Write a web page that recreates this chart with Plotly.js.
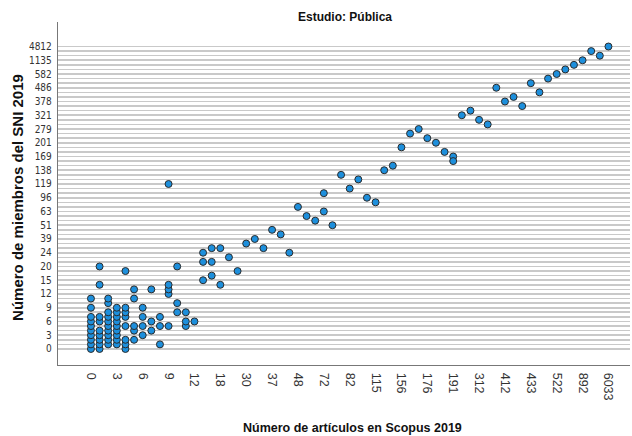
<!DOCTYPE html>
<html>
<head>
<meta charset="utf-8">
<script src="https://cdn.plot.ly/plotly-3.0.1.min.js"></script>
<style>html,body{margin:0;padding:0;background:#fff;}#chart{width:632px;height:436px;}</style>
</head>
<body>
<div id="chart"></div>
<script>
// Category values present on each axis (ordered as drawn)
const articleCategories = [0,1,2,3,4,5,6,7,8,9,10,11,12,14,16,18,21,25,30,32,35,37,41,45,48,55,64,72,75,79,82,93,104,115,128,142,156,163,170,176,181,186,191,230,270,312,345,380,412,419,426,433,462,492,522,640,760,892,1500,2600,6033];
const memberCategories = [0,1,2,3,4,5,6,7,8,9,10,11,12,13,14,15,17,18,20,21,22,24,28,33,39,43,47,51,55,59,63,72,84,96,104,111,119,125,131,138,148,158,169,180,190,201,225,252,279,293,307,321,340,359,378,410,448,486,515,548,582,700,900,1135,1800,3000,4812];

// Labelled ticks
const articleTickLabels = [0,3,6,9,12,18,30,37,48,72,82,115,156,176,191,312,412,433,522,892,6033];
const memberTickLabels = [0,3,6,9,12,15,20,24,39,51,63,96,119,138,169,201,279,321,378,486,582,1135,4812];

// Points: number of articles in Scopus 2019 vs number of SNI members 2019
const articles = [
  0,0,0,0,0,0,0,0,0,0,
  1,1,1,1,1,1,1,1,1,
  2,2,2,2,2,2,2,2,2,2,
  3,3,3,3,3,3,3,3,3,
  4,4,4,4,4,4,4,4,
  5,5,5,5,5,
  6,6,6,6,
  7,7,7,
  8,8,8,
  9,9,9,9,9,
  10,10,10,
  11,11,11,
  12,
  14,14,14,
  16,16,16,
  18,18,
  21,25,30,32,35,37,41,45,48,55,64,72,72,75,79,82,93,104,115,128,142,156,163,170,176,181,186,191,191,
  230,270,312,345,380,412,419,426,433,462,492,522,640,760,892,1500,2600,6033
];
const members = [
  0,1,2,3,4,5,6,7,9,11,
  0,1,2,3,4,6,7,14,20,
  1,2,3,4,5,6,7,8,10,11,
  1,2,3,4,5,6,7,8,9,
  0,1,2,5,7,8,9,18,
  2,4,5,11,13,
  3,5,7,9,
  4,6,13,
  1,5,7,
  5,12,13,14,119,
  8,10,20,
  5,6,8,
  6,
  15,21,24,
  17,21,28,
  14,28,
  22,18,33,39,28,47,43,24,72,59,55,104,63,51,131,111,125,96,84,138,148,190,252,279,225,201,180,169,158,
  321,340,307,293,486,378,410,359,515,448,548,582,700,900,1135,3000,1800,4812
];

const memberTickText = memberCategories.map(v => memberTickLabels.includes(v) ? String(v) : '');

const trace = {
  type: 'scatter',
  mode: 'markers',
  x: articles.map(String),
  y: members.map(String),
  marker: {size: 7, color: '#1d8fdc', line: {color: '#2b2b2b', width: 1}},
  hoverinfo: 'x+y'
};

const layout = {
  width: 632, height: 436,
  margin: {l: 58, r: 2, t: 22, b: 71},
  paper_bgcolor: '#ffffff', plot_bgcolor: '#ffffff',
  showlegend: false,
  font: {family: 'Liberation Sans, Arial, sans-serif', color: '#222'},
  xaxis: {
    type: 'category',
    categoryorder: 'array',
    categoryarray: articleCategories.map(String),
    range: [-3.82, 62.5],
    tickmode: 'array',
    tickvals: articleTickLabels.map(String),
    ticktext: articleTickLabels.map(String),
    tickangle: 90,
    tickfont: {family: 'Liberation Sans, Arial, sans-serif', size: 12.5, color: '#333'},
    ticks: '', ticklabelstandoff: 4,
    showgrid: false, zeroline: false,
    showline: true, linecolor: '#777', linewidth: 1.2
  },
  yaxis: {
    type: 'category',
    categoryorder: 'array',
    categoryarray: memberCategories.map(String),
    range: [-3.5, 71.35],
    tickmode: 'array',
    tickvals: memberCategories.map(String),
    ticktext: memberTickText,
    tickfont: {family: 'Liberation Sans Narrow, DejaVu Sans Condensed, Arial, sans-serif', size: 10, color: '#333'},
    ticks: '', ticklabelstandoff: 3,
    showgrid: true, gridcolor: '#c9c9c9', gridwidth: 1.6,
    zeroline: false,
    showline: true, linecolor: '#777', linewidth: 1.2
  },
  annotations: [
    {text: '<b>Estudio: Pública</b>', xref: 'paper', yref: 'paper', x: 0.502, y: 1.0146, xanchor: 'center', yanchor: 'middle', showarrow: false,
     font: {family: 'Liberation Sans Narrow, Liberation Sans, Arial, sans-serif', size: 12, color: '#111'}},
    {text: '<b>Número de artículos en Scopus 2019</b>', xref: 'paper', yref: 'paper', x: 0.514, y: -0.185, xanchor: 'center', yanchor: 'middle', showarrow: false,
     font: {family: 'Liberation Sans, Arial, sans-serif', size: 12.5, color: '#111'}},
    {text: '<b>Número de miembros del SNI 2019</b>', xref: 'paper', yref: 'paper', x: -0.07, y: 0.49, xanchor: 'center', yanchor: 'middle', showarrow: false, textangle: -90,
     font: {family: 'Liberation Sans, Arial, sans-serif', size: 15, color: '#111'}}
  ]
};

Plotly.newPlot('chart', [trace], layout, {displayModeBar: false, staticPlot: true});
</script>
</body>
</html>
